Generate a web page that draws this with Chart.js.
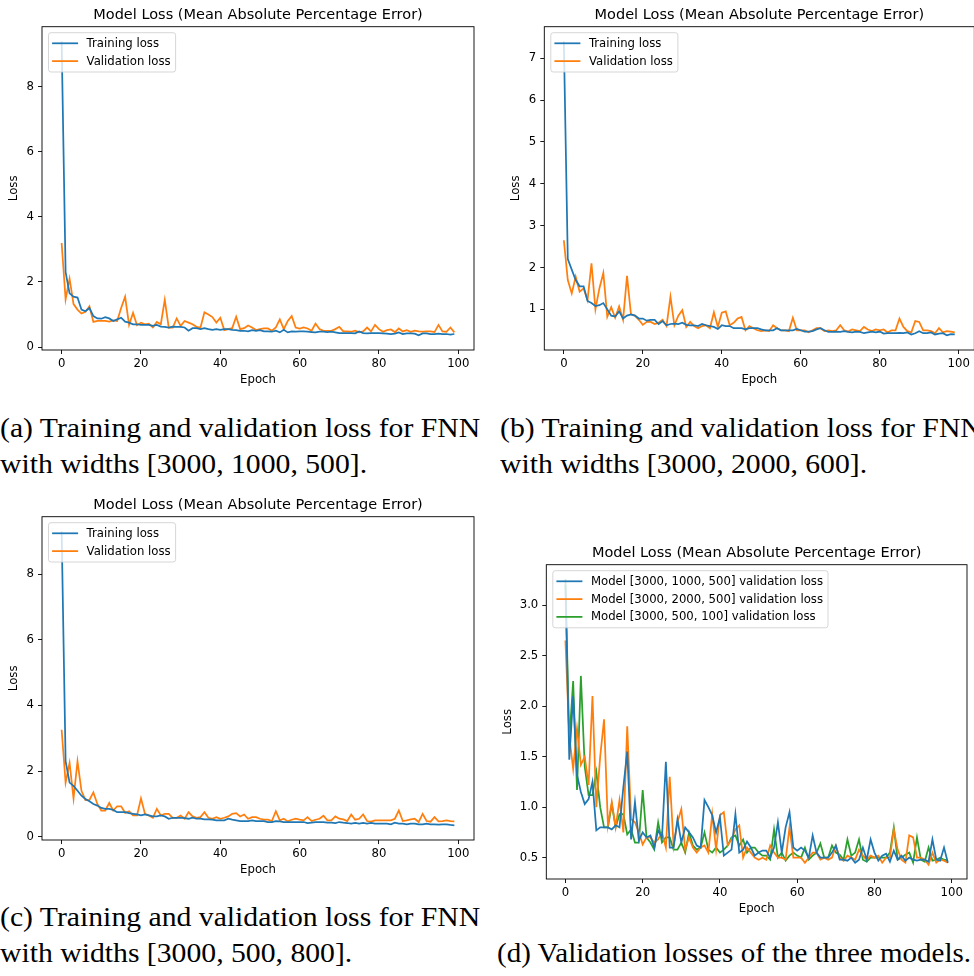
<!DOCTYPE html>
<html>
<head>
<meta charset="utf-8">
<title>Model Loss</title>
<script src="https://cdn.jsdelivr.net/npm/chart.js@4.4.0/dist/chart.umd.min.js"></script>
<style>
  html, body { margin: 0; padding: 0; background: #fff; }
  body { position: relative; width: 974px; height: 976px; overflow: hidden; }
  canvas { position: absolute; }
  .cap {
    position: absolute;
    font-family: "Liberation Serif", "Times New Roman", serif;
    font-size: 27.5px;
    line-height: 36px;
    color: #000;
    white-space: nowrap;
    transform-origin: 0 0;
    transform: scaleX(1.08);
  }
</style>
</head>
<body>
<canvas id="chartA" width="487" height="392" style="left:0px; top:0px;"></canvas>
<canvas id="chartB" width="500" height="392" style="left:487px; top:0px;"></canvas>
<canvas id="chartC" width="487" height="392" style="left:0px; top:490px;"></canvas>
<canvas id="chartD" width="487" height="383" style="left:487px; top:538px;"></canvas>

<div class="cap" style="left:0px; top:410px;">(a) Training and validation loss for FNN<br>with widths [3000, 1000, 500].</div>
<div class="cap" style="left:500px; top:410px;">(b) Training and validation loss for FNN<br>with widths [3000, 2000, 600].</div>
<div class="cap" style="left:0px; top:899px;">(c) Training and validation loss for FNN<br>with widths [3000, 500, 800].</div>
<div class="cap" style="left:497px; top:935px; transform: scaleX(1.055);">(d) Validation losses of the three models.</div>

<script>
// Epoch index 0..99 and axis tick labels
const epochs = Array.from({ length: 100 }, (_, i) => i);
const epochTicks = [0, 20, 40, 60, 80, 100];
const lossTicksA = [0, 2, 4, 6, 8];
const lossTicksB = [1, 2, 3, 4, 5, 6, 7];
const lossTicksC = [0, 2, 4, 6, 8];
const lossTicksD = [0.5, 1.0, 1.5, 2.0, 2.5, 3.0];

// Model [3000, 1000, 500]
const trainA = [9.4, 2.3, 1.65, 1.55, 1.52, 1.15, 1.1, 1.2, 0.95, 0.88,
  0.87, 0.92, 0.88, 0.8, 0.85, 0.9, 0.78, 0.75, 0.7, 0.7,
  0.68, 0.68, 0.68, 0.65, 0.68, 0.63, 0.62, 0.6, 0.63, 0.62,
  0.62, 0.6, 0.5, 0.58, 0.58, 0.55, 0.58, 0.55, 0.53, 0.55,
  0.53, 0.55, 0.55, 0.53, 0.52, 0.5, 0.5, 0.48, 0.52, 0.5,
  0.52, 0.48, 0.48, 0.47, 0.5, 0.45, 0.53, 0.45, 0.48, 0.47,
  0.48, 0.48, 0.47, 0.46, 0.45, 0.47, 0.47, 0.46, 0.47, 0.45,
  0.43, 0.43, 0.43, 0.43, 0.42, 0.48, 0.43, 0.42, 0.43, 0.43,
  0.43, 0.42, 0.41, 0.4, 0.41, 0.45, 0.4, 0.42, 0.42, 0.41,
  0.36, 0.42, 0.42, 0.4, 0.4, 0.41, 0.4, 0.4, 0.38, 0.4];
const valA = [3.2, 1.47, 2.1, 1.32, 1.15, 1.03, 1.08, 1.25, 0.77, 0.8,
  0.8, 0.8, 0.78, 0.82, 0.8, 1.2, 1.55, 0.68, 1.05, 0.67,
  0.75, 0.7, 0.72, 0.6, 0.77, 0.7, 1.45, 0.6, 0.6, 0.88,
  0.65, 0.8, 0.75, 0.7, 0.62, 0.6, 1.07, 1.0, 0.92, 0.75,
  0.9, 0.52, 0.55, 0.58, 0.93, 0.55, 0.58, 0.66, 0.6, 0.52,
  0.55, 0.57, 0.57, 0.5, 0.6, 0.85, 0.55, 0.8, 0.95, 0.6,
  0.57, 0.6, 0.57, 0.5, 0.72, 0.55, 0.5, 0.5, 0.5, 0.55,
  0.62, 0.48, 0.48, 0.47, 0.5, 0.45, 0.48, 0.6, 0.48, 0.68,
  0.55, 0.47, 0.52, 0.54, 0.46, 0.57, 0.48, 0.52, 0.47, 0.5,
  0.48, 0.47, 0.48, 0.48, 0.46, 0.68, 0.48, 0.47, 0.6, 0.45];

// Model [3000, 2000, 500/600]
const trainB = [7.4, 2.2, 1.95, 1.7, 1.55, 1.55, 1.2, 1.15, 1.08, 1.1,
  1.15, 1.0, 0.85, 0.83, 0.95, 0.78, 0.85, 0.88, 0.85, 0.78,
  0.78, 0.73, 0.75, 0.75, 0.65, 0.72, 0.62, 0.65, 0.66, 0.65,
  0.68, 0.63, 0.62, 0.62, 0.6, 0.65, 0.62, 0.6, 0.58, 0.53,
  0.62, 0.6, 0.6, 0.55, 0.55, 0.55, 0.52, 0.55, 0.55, 0.55,
  0.52, 0.5, 0.5, 0.5, 0.55, 0.5, 0.5, 0.5, 0.5, 0.53,
  0.5, 0.47, 0.47, 0.48, 0.52, 0.55, 0.5, 0.46, 0.46, 0.47,
  0.46, 0.48, 0.46, 0.45, 0.47, 0.46, 0.43, 0.45, 0.47, 0.45,
  0.47, 0.42, 0.43, 0.43, 0.43, 0.44, 0.43, 0.45, 0.4, 0.43,
  0.48, 0.43, 0.43, 0.45, 0.4, 0.42, 0.43, 0.38, 0.41, 0.4];
const valB = [2.65, 1.7, 1.38, 1.78, 1.42, 1.5, 1.22, 2.1, 1.0, 1.5,
  1.87, 0.82, 1.05, 0.8, 1.07, 0.75, 1.8, 0.88, 0.85, 0.75,
  0.63, 0.7, 0.7, 0.65, 0.68, 0.75, 0.6, 1.3, 0.62, 0.85,
  0.98, 0.58, 0.7, 0.6, 0.55, 0.6, 0.62, 0.55, 0.93, 0.58,
  0.92, 0.95, 0.62, 0.68, 0.78, 0.82, 0.5, 0.6, 0.55, 0.5,
  0.48, 0.5, 0.48, 0.62, 0.55, 0.5, 0.5, 0.48, 0.8, 0.5,
  0.5, 0.5, 0.45, 0.5, 0.55, 0.55, 0.48, 0.5, 0.48, 0.5,
  0.62, 0.5, 0.47, 0.52, 0.5, 0.48, 0.58, 0.52, 0.48, 0.52,
  0.5, 0.52, 0.45, 0.5, 0.5, 0.78, 0.58, 0.48, 0.45, 0.72,
  0.7, 0.5, 0.5, 0.48, 0.43, 0.55, 0.45, 0.48, 0.47, 0.45];

// Model [3000, 500, 100/800]
const trainC = [9.3, 2.3, 1.65, 1.55, 1.4, 1.25, 1.15, 1.08, 1.0, 0.95,
  0.88, 0.85, 0.85, 0.82, 0.75, 0.75, 0.75, 0.72, 0.7, 0.68,
  0.65, 0.68, 0.65, 0.62, 0.62, 0.65, 0.62, 0.55, 0.58, 0.58,
  0.58, 0.57, 0.55, 0.58, 0.55, 0.55, 0.53, 0.53, 0.52, 0.5,
  0.5, 0.5, 0.55, 0.52, 0.5, 0.48, 0.48, 0.48, 0.5, 0.48,
  0.48, 0.48, 0.45, 0.45, 0.48, 0.47, 0.45, 0.45, 0.45, 0.45,
  0.45, 0.45, 0.42, 0.43, 0.45, 0.45, 0.45, 0.43, 0.43, 0.42,
  0.45, 0.43, 0.42, 0.4, 0.42, 0.4, 0.42, 0.4, 0.42, 0.4,
  0.4, 0.4, 0.4, 0.38, 0.43, 0.4, 0.4, 0.38, 0.4, 0.4,
  0.38, 0.38, 0.4, 0.38, 0.38, 0.37, 0.38, 0.38, 0.36, 0.35];
const valC = [3.26, 1.65, 2.25, 1.17, 2.3, 1.4, 1.12, 1.12, 1.35, 1.0,
  0.8, 0.8, 1.03, 0.8, 0.93, 0.93, 0.73, 0.78, 0.65, 0.65,
  1.17, 0.7, 0.65, 0.58, 0.85, 0.65, 0.7, 0.7, 0.58, 0.58,
  0.65, 0.55, 0.75, 0.62, 0.58, 0.6, 0.75, 0.58, 0.55, 0.6,
  0.55, 0.58, 0.62, 0.7, 0.72, 0.62, 0.68, 0.55, 0.6, 0.6,
  0.55, 0.52, 0.52, 0.48, 0.78, 0.5, 0.55, 0.47, 0.52, 0.55,
  0.52, 0.5, 0.6, 0.48, 0.52, 0.55, 0.64, 0.5, 0.5, 0.62,
  0.55, 0.53, 0.48, 0.68, 0.52, 0.55, 0.68, 0.48, 0.46, 0.5,
  0.5, 0.5, 0.5, 0.5, 0.55, 0.8, 0.48, 0.5, 0.53, 0.55,
  0.45, 0.7, 0.48, 0.46, 0.6, 0.47, 0.48, 0.5, 0.48, 0.47];

const BLUE = '#1f77b4';
const ORANGE = '#ff7f0e';
const GREEN = '#2ca02c';
const TITLE = 'Model Loss (Mean Absolute Percentage Error)';
const FONT = 'DejaVu Sans';

Chart.defaults.font.family = FONT;
Chart.defaults.color = '#000';

const tickFont = { family: FONT, size: 11.7, lineHeight: 1.2 };

// Draws the axes box and a matplotlib style legend inside the top-left corner
const boxAndLegend = {
  id: 'boxAndLegend',
  afterDatasetsDraw(chart) {
    const { ctx, chartArea } = chart;
    const sets = chart.data.datasets;
    ctx.save();

    ctx.strokeStyle = '#000';
    ctx.lineWidth = 0.9;
    ctx.strokeRect(chartArea.left, chartArea.top, chartArea.width, chartArea.height);

    ctx.font = `11.7px "${FONT}"`;
    const textW = Math.max(...sets.map(d => ctx.measureText(d.label).width));
    const x0 = chartArea.left + 6.5;
    const y0 = chartArea.top + 6;
    const rowH = 17.8;
    const w = 3.6 + 26 + 8.5 + textW + 5;
    const h = 21.5 + (sets.length - 1) * rowH;

    ctx.beginPath();
    ctx.roundRect(x0, y0, w, h, 2.5);
    ctx.fillStyle = 'rgba(255,255,255,0.8)';
    ctx.fill();
    ctx.strokeStyle = 'rgba(204,204,204,0.8)';
    ctx.lineWidth = 1;
    ctx.stroke();

    sets.forEach((d, i) => {
      const y = y0 + 10.6 + i * rowH;
      ctx.beginPath();
      ctx.moveTo(x0 + 3.6, y);
      ctx.lineTo(x0 + 29.6, y);
      ctx.strokeStyle = d.borderColor;
      ctx.lineWidth = 1.75;
      ctx.stroke();
      ctx.fillStyle = '#000';
      ctx.textBaseline = 'middle';
      ctx.textAlign = 'left';
      ctx.fillText(d.label, x0 + 38.1, y + 0.5);
    });
    ctx.restore();
  }
};

function series(label, values, color) {
  return {
    label,
    data: epochs.map((e, i) => ({ x: e, y: values[i] })),
    borderColor: color,
    backgroundColor: color,
    borderWidth: 1.75,
    pointRadius: 0,
    tension: 0,
    fill: false
  };
}

function makePanel(id, datasets, cfg) {
  // matplotlib style 5% margins around the data
  const all = datasets.flatMap(d => d.data.map(p => p.y));
  const lo = Math.min(...all), hi = Math.max(...all);
  const yPad = (hi - lo) * 0.05;
  const xPad = (epochs[epochs.length - 1] - epochs[0]) * 0.05;

  return new Chart(document.getElementById(id), {
    type: 'line',
    data: { datasets },
    plugins: [boxAndLegend],
    options: {
      responsive: false,
      animation: false,
      devicePixelRatio: 1,
      layout: { padding: { left: 0, right: cfg.padRight, top: 0, bottom: 0 } },
      plugins: {
        legend: { display: false },
        tooltip: { enabled: false },
        title: {
          display: true,
          text: TITLE,
          fullSize: false,
          color: '#000',
          font: { family: FONT, size: 14.5, weight: 'normal', lineHeight: 1.2 },
          padding: { top: 6.8, bottom: 2.5 }
        }
      },
      scales: {
        x: {
          type: 'linear',
          min: epochs[0] - xPad,
          max: epochs[epochs.length - 1] + xPad,
          afterBuildTicks: s => { s.ticks = epochTicks.map(v => ({ value: v })); },
          afterFit: s => { s.height = 42; },
          grid: { display: true, drawOnChartArea: false, drawTicks: true, tickLength: 4, tickColor: '#000', tickWidth: 0.9 },
          border: { display: false },
          ticks: { color: '#000', font: tickFont, padding: 3, maxRotation: 0, autoSkip: false },
          title: { display: true, text: 'Epoch', color: '#000', font: tickFont, padding: { top: 0, bottom: 5 } }
        },
        y: {
          type: 'linear',
          min: lo - yPad,
          max: hi + yPad,
          afterBuildTicks: s => { s.ticks = cfg.yTicks.map(v => ({ value: v })); },
          afterFit: s => { s.width = cfg.yWidth; },
          grid: { display: true, drawOnChartArea: false, drawTicks: true, tickLength: 4, tickColor: '#000', tickWidth: 0.9 },
          border: { display: false },
          ticks: {
            color: '#000', font: tickFont, padding: 4, autoSkip: false,
            callback: v => v.toFixed(cfg.decimals)
          },
          title: { display: true, text: 'Loss', color: '#000', font: tickFont, padding: { top: cfg.yTitlePad, bottom: 0 } }
        }
      }
    }
  });
}

makePanel('chartA', [series('Training loss', trainA, BLUE), series('Validation loss', valA, ORANGE)],
  { yTicks: lossTicksA, decimals: 0, yWidth: 42, yTitlePad: 7, padRight: 13 });

makePanel('chartB', [series('Training loss', trainB, BLUE), series('Validation loss', valB, ORANGE)],
  { yTicks: lossTicksB, decimals: 0, yWidth: 57.3, yTitlePad: 22.3, padRight: 12.7 });

makePanel('chartC', [series('Training loss', trainC, BLUE), series('Validation loss', valC, ORANGE)],
  { yTicks: lossTicksC, decimals: 0, yWidth: 42, yTitlePad: 7, padRight: 13 });

makePanel('chartD', [
    series('Model [3000, 1000, 500] validation loss', valA, BLUE),
    series('Model [3000, 2000, 500] validation loss', valB, ORANGE),
    series('Model [3000, 500, 100] validation loss', valC, GREEN)
  ],
  { yTicks: lossTicksD, decimals: 1, yWidth: 59.3, yTitlePad: 13.7, padRight: 7 });
</script>
</body>
</html>
